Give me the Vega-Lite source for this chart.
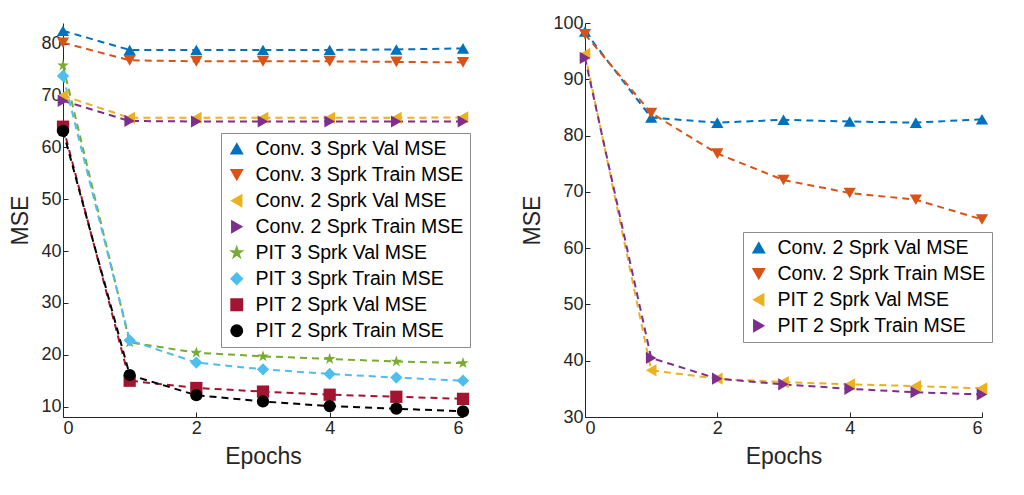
{
  "$schema": "https://vega.github.io/schema/vega-lite/v6.json",
  "background": "white",
  "padding": {"left": 9, "top": 14, "right": 10, "bottom": 5},
  "spacing": 50,
  "config": {
    "font": "Liberation Sans",
    "view": {"stroke": null},
    "axis": {
      "grid": false,
      "domainColor": "#262626",
      "tickColor": "#262626",
      "labelColor": "#262626",
      "titleColor": "#262626",
      "labelFontSize": 18,
      "titleFontSize": 23,
      "titleFontWeight": "normal",
      "tickSize": -5,
      "labelPadding": 7
    },
    "legend": {
      "strokeColor": "#8c8c8c",
      "fillColor": "white",
      "padding": 6,
      "labelFontSize": 19.5,
      "labelColor": "black",
      "labelLimit": 400,
      "symbolSize": 130,
      "rowPadding": 5,
      "labelOffset": 9
    }
  },
  "datasets": {
    "left": [
      {"series": "Conv. 3 Sprk Val MSE", "epoch": 0, "mse": 82.5},
      {"series": "Conv. 3 Sprk Val MSE", "epoch": 1, "mse": 78.8},
      {"series": "Conv. 3 Sprk Val MSE", "epoch": 2, "mse": 78.8},
      {"series": "Conv. 3 Sprk Val MSE", "epoch": 3, "mse": 78.8},
      {"series": "Conv. 3 Sprk Val MSE", "epoch": 4, "mse": 78.8},
      {"series": "Conv. 3 Sprk Val MSE", "epoch": 5, "mse": 78.9},
      {"series": "Conv. 3 Sprk Val MSE", "epoch": 6, "mse": 79.1},
      {"series": "Conv. 3 Sprk Train MSE", "epoch": 0, "mse": 80.2},
      {"series": "Conv. 3 Sprk Train MSE", "epoch": 1, "mse": 76.8},
      {"series": "Conv. 3 Sprk Train MSE", "epoch": 2, "mse": 76.6},
      {"series": "Conv. 3 Sprk Train MSE", "epoch": 3, "mse": 76.6},
      {"series": "Conv. 3 Sprk Train MSE", "epoch": 4, "mse": 76.6},
      {"series": "Conv. 3 Sprk Train MSE", "epoch": 5, "mse": 76.5},
      {"series": "Conv. 3 Sprk Train MSE", "epoch": 6, "mse": 76.4},
      {"series": "Conv. 2 Sprk Val MSE", "epoch": 0, "mse": 70.0},
      {"series": "Conv. 2 Sprk Val MSE", "epoch": 1, "mse": 65.7},
      {"series": "Conv. 2 Sprk Val MSE", "epoch": 2, "mse": 65.7},
      {"series": "Conv. 2 Sprk Val MSE", "epoch": 3, "mse": 65.7},
      {"series": "Conv. 2 Sprk Val MSE", "epoch": 4, "mse": 65.7},
      {"series": "Conv. 2 Sprk Val MSE", "epoch": 5, "mse": 65.7},
      {"series": "Conv. 2 Sprk Val MSE", "epoch": 6, "mse": 65.8},
      {"series": "Conv. 2 Sprk Train MSE", "epoch": 0, "mse": 69.0},
      {"series": "Conv. 2 Sprk Train MSE", "epoch": 1, "mse": 65.1},
      {"series": "Conv. 2 Sprk Train MSE", "epoch": 2, "mse": 65.0},
      {"series": "Conv. 2 Sprk Train MSE", "epoch": 3, "mse": 65.0},
      {"series": "Conv. 2 Sprk Train MSE", "epoch": 4, "mse": 65.0},
      {"series": "Conv. 2 Sprk Train MSE", "epoch": 5, "mse": 65.0},
      {"series": "Conv. 2 Sprk Train MSE", "epoch": 6, "mse": 65.0},
      {"series": "PIT 3 Sprk Val MSE", "epoch": 0, "mse": 75.8},
      {"series": "PIT 3 Sprk Val MSE", "epoch": 1, "mse": 22.4},
      {"series": "PIT 3 Sprk Val MSE", "epoch": 2, "mse": 20.4},
      {"series": "PIT 3 Sprk Val MSE", "epoch": 3, "mse": 19.7},
      {"series": "PIT 3 Sprk Val MSE", "epoch": 4, "mse": 19.2},
      {"series": "PIT 3 Sprk Val MSE", "epoch": 5, "mse": 18.7},
      {"series": "PIT 3 Sprk Val MSE", "epoch": 6, "mse": 18.4},
      {"series": "PIT 3 Sprk Train MSE", "epoch": 0, "mse": 73.8},
      {"series": "PIT 3 Sprk Train MSE", "epoch": 1, "mse": 22.8},
      {"series": "PIT 3 Sprk Train MSE", "epoch": 2, "mse": 18.5},
      {"series": "PIT 3 Sprk Train MSE", "epoch": 3, "mse": 17.2},
      {"series": "PIT 3 Sprk Train MSE", "epoch": 4, "mse": 16.3},
      {"series": "PIT 3 Sprk Train MSE", "epoch": 5, "mse": 15.6},
      {"series": "PIT 3 Sprk Train MSE", "epoch": 6, "mse": 15.0},
      {"series": "PIT 2 Sprk Val MSE", "epoch": 0, "mse": 64.0},
      {"series": "PIT 2 Sprk Val MSE", "epoch": 1, "mse": 15.0},
      {"series": "PIT 2 Sprk Val MSE", "epoch": 2, "mse": 13.6},
      {"series": "PIT 2 Sprk Val MSE", "epoch": 3, "mse": 12.9},
      {"series": "PIT 2 Sprk Val MSE", "epoch": 4, "mse": 12.3},
      {"series": "PIT 2 Sprk Val MSE", "epoch": 5, "mse": 11.9},
      {"series": "PIT 2 Sprk Val MSE", "epoch": 6, "mse": 11.5},
      {"series": "PIT 2 Sprk Train MSE", "epoch": 0, "mse": 63.2},
      {"series": "PIT 2 Sprk Train MSE", "epoch": 1, "mse": 16.1},
      {"series": "PIT 2 Sprk Train MSE", "epoch": 2, "mse": 12.2},
      {"series": "PIT 2 Sprk Train MSE", "epoch": 3, "mse": 11.0},
      {"series": "PIT 2 Sprk Train MSE", "epoch": 4, "mse": 10.1},
      {"series": "PIT 2 Sprk Train MSE", "epoch": 5, "mse": 9.6},
      {"series": "PIT 2 Sprk Train MSE", "epoch": 6, "mse": 9.1}
    ],
    "right": [
      {"series": "Conv. 2 Sprk Val MSE", "epoch": 0, "mse": 98.5},
      {"series": "Conv. 2 Sprk Val MSE", "epoch": 1, "mse": 83.2},
      {"series": "Conv. 2 Sprk Val MSE", "epoch": 2, "mse": 82.3},
      {"series": "Conv. 2 Sprk Val MSE", "epoch": 3, "mse": 82.8},
      {"series": "Conv. 2 Sprk Val MSE", "epoch": 4, "mse": 82.5},
      {"series": "Conv. 2 Sprk Val MSE", "epoch": 5, "mse": 82.3},
      {"series": "Conv. 2 Sprk Val MSE", "epoch": 6, "mse": 82.9},
      {"series": "Conv. 2 Sprk Train MSE", "epoch": 0, "mse": 98.0},
      {"series": "Conv. 2 Sprk Train MSE", "epoch": 1, "mse": 84.0},
      {"series": "Conv. 2 Sprk Train MSE", "epoch": 2, "mse": 76.8},
      {"series": "Conv. 2 Sprk Train MSE", "epoch": 3, "mse": 72.1},
      {"series": "Conv. 2 Sprk Train MSE", "epoch": 4, "mse": 69.8},
      {"series": "Conv. 2 Sprk Train MSE", "epoch": 5, "mse": 68.6},
      {"series": "Conv. 2 Sprk Train MSE", "epoch": 6, "mse": 65.1},
      {"series": "PIT 2 Sprk Val MSE", "epoch": 0, "mse": 94.5},
      {"series": "PIT 2 Sprk Val MSE", "epoch": 1, "mse": 38.3},
      {"series": "PIT 2 Sprk Val MSE", "epoch": 2, "mse": 36.8},
      {"series": "PIT 2 Sprk Val MSE", "epoch": 3, "mse": 36.2},
      {"series": "PIT 2 Sprk Val MSE", "epoch": 4, "mse": 35.8},
      {"series": "PIT 2 Sprk Val MSE", "epoch": 5, "mse": 35.5},
      {"series": "PIT 2 Sprk Val MSE", "epoch": 6, "mse": 35.1},
      {"series": "PIT 2 Sprk Train MSE", "epoch": 0, "mse": 93.8},
      {"series": "PIT 2 Sprk Train MSE", "epoch": 1, "mse": 40.5},
      {"series": "PIT 2 Sprk Train MSE", "epoch": 2, "mse": 36.8},
      {"series": "PIT 2 Sprk Train MSE", "epoch": 3, "mse": 35.8},
      {"series": "PIT 2 Sprk Train MSE", "epoch": 4, "mse": 35.0},
      {"series": "PIT 2 Sprk Train MSE", "epoch": 5, "mse": 34.4},
      {"series": "PIT 2 Sprk Train MSE", "epoch": 6, "mse": 34.0}
    ]
  },
  "resolve": {"scale": {"color": "independent", "shape": "independent"}, "legend": {"color": "independent", "shape": "independent"}},
  "hconcat": [
    {
      "width": 400,
      "height": 394,
      "data": {"name": "left"},
      "encoding": {
        "x": {"field": "epoch", "type": "quantitative", "title": "Epochs",
              "scale": {"domain": [0, 6], "nice": false},
              "axis": {"values": [0, 2, 4, 6], "titlePadding": 8}},
        "y": {"field": "mse", "type": "quantitative", "title": "MSE",
              "scale": {"domain": [8, 84], "nice": false, "zero": false},
              "axis": {"values": [10, 20, 30, 40, 50, 60, 70, 80], "titlePadding": 8}},
        "color": {"field": "series", "type": "nominal",
          "legend": {"title": null, "orient": "none", "legendX": 158, "legendY": 110},
          "scale": {
            "domain": ["Conv. 3 Sprk Val MSE", "Conv. 3 Sprk Train MSE", "Conv. 2 Sprk Val MSE", "Conv. 2 Sprk Train MSE", "PIT 3 Sprk Val MSE", "PIT 3 Sprk Train MSE", "PIT 2 Sprk Val MSE", "PIT 2 Sprk Train MSE"],
            "range": ["#0072BD", "#D95319", "#EDB120", "#7E2F8E", "#77AC30", "#4DBEEE", "#A2142F", "#000000"]
          }}
      },
      "layer": [
        {
          "mark": {"type": "line", "strokeDash": [7, 5], "strokeWidth": 2}
        },
        {
          "mark": {"type": "point", "filled": true, "opacity": 1, "size": 150},
          "encoding": {
            "shape": {"field": "series", "type": "nominal",
              "legend": {"title": null, "orient": "none", "legendX": 158, "legendY": 110},
              "scale": {
                "domain": ["Conv. 3 Sprk Val MSE", "Conv. 3 Sprk Train MSE", "Conv. 2 Sprk Val MSE", "Conv. 2 Sprk Train MSE", "PIT 3 Sprk Val MSE", "PIT 3 Sprk Train MSE", "PIT 2 Sprk Val MSE", "PIT 2 Sprk Train MSE"],
                "range": ["triangle-up", "triangle-down", "triangle-left", "triangle-right", "M0,-1L0.2245,-0.309L0.951,-0.309L0.363,0.118L0.588,0.809L0,0.382L-0.588,0.809L-0.363,0.118L-0.951,-0.309L-0.2245,-0.309Z", "diamond", "square", "circle"]
              }}
          }
        }
      ]
    },
    {
      "width": 397,
      "height": 394,
      "data": {"name": "right"},
      "encoding": {
        "x": {"field": "epoch", "type": "quantitative", "title": "Epochs",
              "scale": {"domain": [0, 6], "nice": false},
              "axis": {"values": [0, 2, 4, 6], "titlePadding": 8}},
        "y": {"field": "mse", "type": "quantitative", "title": "MSE",
              "scale": {"domain": [30, 100], "nice": false, "zero": false},
              "axis": {"values": [30, 40, 50, 60, 70, 80, 90, 100], "titlePadding": 8}},
        "color": {"field": "series", "type": "nominal",
          "legend": {"title": null, "orient": "none", "legendX": 158, "legendY": 209},
          "scale": {
            "domain": ["Conv. 2 Sprk Val MSE", "Conv. 2 Sprk Train MSE", "PIT 2 Sprk Val MSE", "PIT 2 Sprk Train MSE"],
            "range": ["#0072BD", "#D95319", "#EDB120", "#7E2F8E"]
          }}
      },
      "layer": [
        {
          "mark": {"type": "line", "strokeDash": [7, 5], "strokeWidth": 2}
        },
        {
          "mark": {"type": "point", "filled": true, "opacity": 1, "size": 150},
          "encoding": {
            "shape": {"field": "series", "type": "nominal",
              "legend": {"title": null, "orient": "none", "legendX": 158, "legendY": 209},
              "scale": {
                "domain": ["Conv. 2 Sprk Val MSE", "Conv. 2 Sprk Train MSE", "PIT 2 Sprk Val MSE", "PIT 2 Sprk Train MSE"],
                "range": ["triangle-up", "triangle-down", "triangle-left", "triangle-right"]
              }}
          }
        }
      ]
    }
  ]
}
